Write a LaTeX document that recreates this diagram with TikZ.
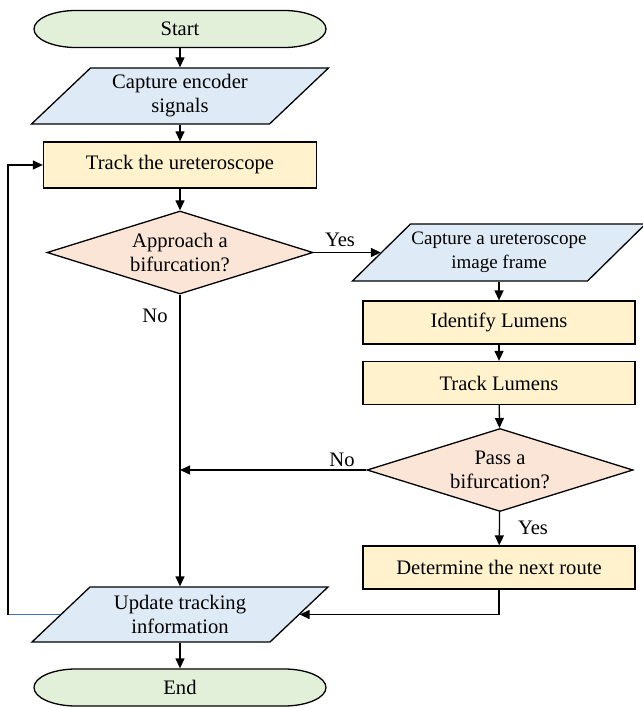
\documentclass[tikz,border=0pt]{standalone}
\usepackage{fontspec}
\setmainfont{Liberation Serif}
\usetikzlibrary{shapes.geometric,arrows.meta}
\definecolor{termfill}{HTML}{E2F0D9}
\definecolor{iofill}{HTML}{DEEBF7}
\definecolor{procfill}{HTML}{FFF2CC}
\definecolor{decfill}{HTML}{FBE5D6}
\definecolor{loopblue}{HTML}{4472C4}
\begin{document}
\begin{tikzpicture}[x=1pt,y=1pt,line width=1.3pt,
  >={Triangle[length=10pt,width=9pt]},
  txt/.style={font=\fontsize{20.6}{24}\selectfont,align=center,inner sep=0pt},
  proc/.style={txt,draw,fill=procfill,minimum width=272pt,minimum height=43pt},
  dec/.style={diamond,draw,fill=decfill,inner sep=0pt,minimum width=266pt,minimum height=83pt},
  iobox/.style={txt,minimum width=238pt,minimum height=56pt},
  term/.style={txt,minimum width=292pt,minimum height=37pt},
  iodraw/.style={draw=black,fill=iofill,line join=miter},
  termdraw/.style={draw=black,fill=termfill}]
\useasboundingbox (0,0) rectangle (642,-708);

% shapes drawn first (parallelograms and terminators)
\draw[termdraw] (76,-10.5) -- (284,-10.5) arc[start angle=90,end angle=-90,x radius=42,y radius=18.5]
  -- (76,-47.5) arc[start angle=270,end angle=90,x radius=42,y radius=18.5] -- cycle;
\draw[iodraw] (31.5,-124) -- (90.5,-68) -- (328.5,-68) -- (269.5,-124) -- cycle;
\draw[iodraw] (352.5,-281) -- (410.5,-224) -- (645.5,-224) -- (587.5,-281) -- cycle;
\draw[iodraw] (32,-642) -- (90,-587) -- (328,-587) -- (270,-642) -- cycle;
\draw[termdraw] (76,-669) -- (284,-669) arc[start angle=90,end angle=-90,x radius=42,y radius=18.5]
  -- (76,-706) arc[start angle=270,end angle=90,x radius=42,y radius=18.5] -- cycle;

% nodes
\node[term] (start) at (180,-29) {Start};
\node[iobox] (c1) at (180,-96) {Capture encoder\\signals};
\node[proc,minimum width=273pt,minimum height=46pt] (track) at (180,-165) {Track the ureteroscope};
\node[dec,label={[txt]center:Approach a\\bifurcation?}] (d1) at (180,-252.5) {};
\node[iobox,font=\fontsize{19}{24}\selectfont,minimum width=235pt,minimum height=57pt] (c2) at (499,-252.5) {Capture a ureteroscope\\image frame};
\node[proc] (ident) at (499,-322.5) {Identify Lumens};
\node[proc] (trackl) at (499,-383) {Track Lumens};
\node[dec,label={[txt]center:Pass a\\bifurcation?}] (d2) at (500,-470) {};
\node[proc] (det) at (499,-567.5) {Determine the next route};
\node[iobox,minimum height=55pt] (upd) at (180,-614.5) {Update tracking\\information};
\node[term] (end) at (180,-687.5) {End};

% labels
\node[txt] (yes1) at (340,-240) {Yes};
\node[txt] (no1) at (155,-316) {No};
\node[txt] (no2) at (342,-460) {No};
\node[txt] (yes2) at (533,-528) {Yes};

% connectors
\draw[->] (start) -- (c1);
\draw[->] (c1) -- (track);
\draw[->] (track) -- (d1);
\draw[->] (d1.east) -- (c2.west);
\draw[->] (c2) -- (ident);
\draw[->] (ident) -- (trackl);
\draw[->] (trackl) -- (d2);
\draw[->] (d2) -- (det);
\draw[->] (d1) -- (upd);
\draw[->] (d2.west) -- (d2.west -| d1.south);
\draw[->] (det.south) |- (upd.east);
\draw[->] (upd) -- (end);
\coordinate (lb) at (8,-614.5);
\coordinate (lt) at (8,-165);
\draw[loopblue] (upd.west) -- ([xshift=-0.65pt]lb);
\draw[->] ([yshift=-0.65pt]lb) -- (lt) -- (track.west);
\end{tikzpicture}
\end{document}
